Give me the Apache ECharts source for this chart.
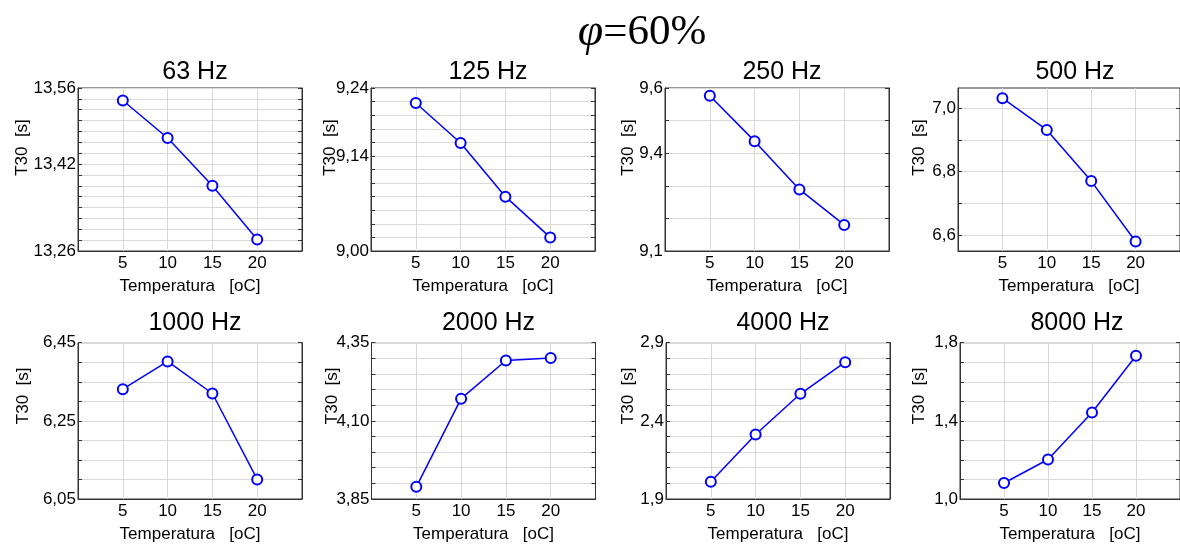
<!DOCTYPE html>
<html>
<head>
<meta charset="utf-8">
<script src="https://cdn.jsdelivr.net/npm/echarts@6/dist/echarts.min.js"></script>
<style>
html,body{margin:0;padding:0;background:#fff;}
#chart{width:1180px;height:544px;}
</style>
</head>
<body>
<div id="chart"></div>
<script>
// ---------- DATA ----------
const mainTitle = 'φ=60%';
const temps = [5, 10, 15, 20];
const xTickValues = [5, 10, 15, 20];
const xMin = 0, xMax = 25;
const xName = 'Temperatura   [oC]';
const yName = 'T30  [s]';
const panelTitles = ['63 Hz', '125 Hz', '250 Hz', '500 Hz', '1000 Hz', '2000 Hz', '4000 Hz', '8000 Hz'];

const t30_63   = [13.537, 13.468, 13.380, 13.281];
const t30_125  = [9.218, 9.159, 9.080, 9.020];
const t30_250  = [9.576, 9.437, 9.289, 9.180];
const t30_500  = [7.031, 6.931, 6.770, 6.580];
const t30_1000 = [6.331, 6.402, 6.320, 6.100];
const t30_2000 = [3.889, 4.171, 4.293, 4.301];
const t30_4000 = [2.010, 2.313, 2.573, 2.775];
const t30_8000 = [1.082, 1.202, 1.443, 1.733];
const seriesValues = [t30_63, t30_125, t30_250, t30_500, t30_1000, t30_2000, t30_4000, t30_8000];

// y axis ranges, grid-line steps and labelled ticks
const yMins  = [13.26, 9.00, 9.1, 6.55, 6.05, 3.85, 1.9, 1.0];
const yMaxs  = [13.56, 9.24, 9.6, 7.063, 6.45, 4.35, 2.9, 1.8];
const yGridStart = [13.26, 9.00, 9.1, 6.6, 6.05, 3.85, 1.9, 1.0];
const yGridStep  = [0.02, 0.02, 0.1, 0.1, 0.05, 0.05, 0.1, 0.1];
const yLabelValues = [
  [13.26, 13.42, 13.56],
  [9.00, 9.14, 9.24],
  [9.1, 9.4, 9.6],
  [6.6, 6.8, 7.0],
  [6.05, 6.25, 6.45],
  [3.85, 4.10, 4.35],
  [1.9, 2.4, 2.9],
  [1.0, 1.4, 1.8]
];
const yDecimals = [2, 2, 1, 1, 2, 2, 1, 1];

// ---------- LAYOUT ----------
const gridLeft = [78, 371, 665, 958, 78, 371.5, 666, 960];
const gridTop  = [88, 88, 88, 88, 342.7, 342.7, 342.7, 342.7];
const gridH    = [163, 163, 163, 163, 160, 160, 160, 160];
const gridW    = 224;
const yNameGap = [47, 32, 28, 30, 46, 31, 29, 32];
const yNameShift = [44, 44, 44, 44, 50, 50, 50, 50];
const titleTop = [55, 55, 55, 55, 306, 306, 306, 306];

const FONT = 'Liberation Sans, Arial, sans-serif';
const gridColor = '#d9d9d9';
const frameColor = '#333333';
const lineBlue = '#0000ff';

function gridTicks(i) {
  const out = [];
  for (let v = yGridStart[i]; v <= yMaxs[i] + 1e-9; v += yGridStep[i]) {
    out.push(parseFloat(v.toFixed(4)));
  }
  return out;
}

const grids = [], xAxes = [], yAxes = [], series = [], titles = [];

titles.push({
  text: '{i|φ}=60%',
  left: 637, top: 5, textAlign: 'center',
  textStyle: {
    fontFamily: 'Liberation Serif, Times New Roman, serif', fontSize: 43, color: '#000', fontWeight: 'normal',
    rich: { i: { fontFamily: 'Liberation Serif, Times New Roman, serif', fontStyle: 'italic', fontSize: 46, color: '#000' } }
  }
});

for (let i = 0; i < 8; i++) {
  grids.push({
    left: gridLeft[i], top: gridTop[i], width: gridW, height: gridH[i],
    show: true, borderColor: frameColor, borderWidth: 1, backgroundColor: 'transparent',
    containLabel: false
  });
  titles.push({
    text: panelTitles[i],
    left: gridLeft[i] + gridW / 2, top: titleTop[i], textAlign: 'center',
    textStyle: { fontFamily: FONT, fontSize: 25, fontWeight: 'normal', color: '#000' }
  });
  xAxes.push({
    type: 'value', gridIndex: i, min: xMin, max: xMax,
    name: xName, nameLocation: 'middle', nameGap: 27, nameMoveOverlap: false,
    nameTextStyle: { fontFamily: FONT, fontSize: 17, color: '#000' },
    axisLine: { show: true, onZero: false, lineStyle: { color: frameColor, width: 1 } },
    axisTick: { show: false, customValues: xTickValues },
    axisLabel: { customValues: xTickValues, fontFamily: FONT, fontSize: 17, color: '#000', margin: 4 },
    splitLine: { show: true, lineStyle: { color: gridColor, width: 1 } }
  });
  const ticks = gridTicks(i);
  const dec = yDecimals[i];
  yAxes.push({
    type: 'value', gridIndex: i, min: yMins[i], max: yMaxs[i], position: 'left',
    name: yName, nameLocation: 'middle', nameGap: yNameGap[i], nameMoveOverlap: false,
    nameTextStyle: { fontFamily: FONT, fontSize: 17, color: '#000', padding: [0, 0, 0, yNameShift[i]] },
    axisLine: { show: true, onZero: false, lineStyle: { color: frameColor, width: 1 } },
    axisTick: { show: true, inside: true, length: 4, customValues: ticks, lineStyle: { color: frameColor } },
    axisLabel: {
      customValues: yLabelValues[i], fontFamily: FONT, fontSize: 17, color: '#000', margin: 2,
      formatter: v => Number(v).toFixed(dec).replace('.', ',')
    },
    splitLine: { show: true, lineStyle: { color: gridColor, width: 1 } }
  });
  yAxes.push({
    type: 'value', gridIndex: i, min: yMins[i], max: yMaxs[i], position: 'right',
    axisLine: { show: true, onZero: false, lineStyle: { color: frameColor, width: 1 } },
    axisTick: { show: true, inside: true, length: 4, customValues: ticks, lineStyle: { color: frameColor } },
    axisLabel: { show: false },
    splitLine: { show: false }
  });
  series.push({
    type: 'line', xAxisIndex: i, yAxisIndex: 2 * i,
    data: temps.map((t, k) => [t, seriesValues[i][k]]),
    symbol: 'emptyCircle', symbolSize: 10,
    lineStyle: { color: lineBlue, width: 1.5 },
    itemStyle: { color: lineBlue, borderColor: lineBlue, borderWidth: 1 },
    emphasis: { disabled: true },
    silent: true
  });
}

const chart = echarts.init(document.getElementById('chart'), null, { renderer: 'canvas' });
chart.setOption({
  animation: false,
  backgroundColor: '#ffffff',
  title: titles,
  grid: grids,
  xAxis: xAxes,
  yAxis: yAxes,
  series: series
});
</script>
</body>
</html>
